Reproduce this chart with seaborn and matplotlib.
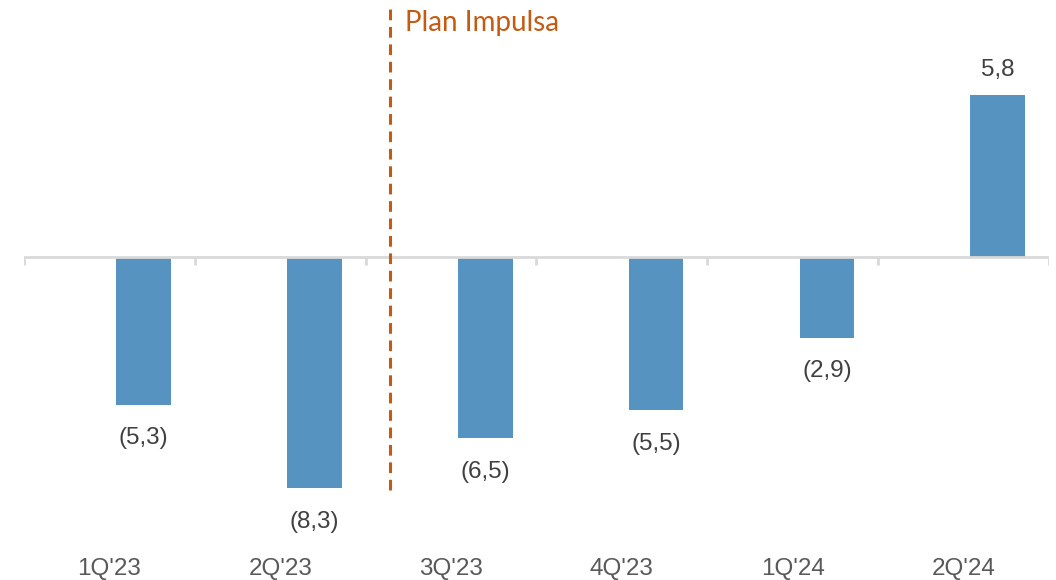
import matplotlib
matplotlib.use("Agg")
import matplotlib.pyplot as plt
import seaborn as sns
import pandas as pd

# data
quarters = ["1Q'23", "2Q'23", "3Q'23", "4Q'23", "1Q'24", "2Q'24"]
values = [-5.3, -8.3, -6.5, -5.5, -2.9, 5.8]
labels = ["(5,3)", "(8,3)", "(6,5)", "(5,5)", "(2,9)", "5,8"]
plan_label = "Plan Impulsa"
plan_pos = 1.64  # between 2Q'23 and 3Q'23

bar_color = "#5793C0"
orange = "#C55A11"

# the bars sit in the right half of each slot (empty left series)
df = pd.concat([
    pd.DataFrame({"quarter": quarters, "value": [0.0] * len(quarters), "serie": "vacia"}),
    pd.DataFrame({"quarter": quarters, "value": values, "serie": "valor"}),
], ignore_index=True)

sns.set_style("white")
fig = plt.figure(figsize=(10.56, 5.8), dpi=100)
ax = fig.add_axes([24 / 1056, 0, 1025 / 1056, 1])

sns.barplot(data=df, x="quarter", y="value", hue="serie", order=quarters,
            hue_order=["vacia", "valor"], palette=[bar_color, bar_color],
            dodge=True, width=0.8, gap=0.2, saturation=1, legend=False,
            errorbar=None, linewidth=0, ax=ax)

ax.set_xlim(-0.5, 5.5)
ax.set_ylim(-11.58, 9.21)
for s in ax.spines.values():
    s.set_visible(False)
ax.set_xticks([])
ax.set_yticks([])
ax.set_xlabel("")
ax.set_ylabel("")

# zero line with category separators
ax.axhline(0, color="#D9D9D9", lw=2, zorder=1)
ax.vlines([i - 0.5 for i in range(len(quarters) + 1)], -0.3, 0,
          color="#D9D9D9", lw=2, zorder=1)

# value labels, centred on the real bars
for p, v, lab in zip(ax.containers[1], values, labels):
    xc = p.get_x() + p.get_width() / 2
    off = 18 if v > 0 else -24
    ax.annotate(lab, (xc, v), xytext=(0, off), textcoords="offset points",
                ha="center", va="center", fontsize=17.5, color="#404040",
                family="Liberation Sans")

# category labels along the bottom
for i, q in enumerate(quarters):
    ax.text(i, -11.2, q, ha="center", va="center", fontsize=17.5,
            color="#595959", family="Liberation Sans")

# plan marker
ax.vlines(plan_pos, -8.35, 8.92, color=orange, lw=2.2,
          linestyles=(0, (3.5, 2.2)), zorder=3)
ax.text(plan_pos + 0.09, 8.4, plan_label, ha="left", va="center",
        fontsize=20, color=orange, family="Lato")

fig.savefig("out.png", dpi=100)
